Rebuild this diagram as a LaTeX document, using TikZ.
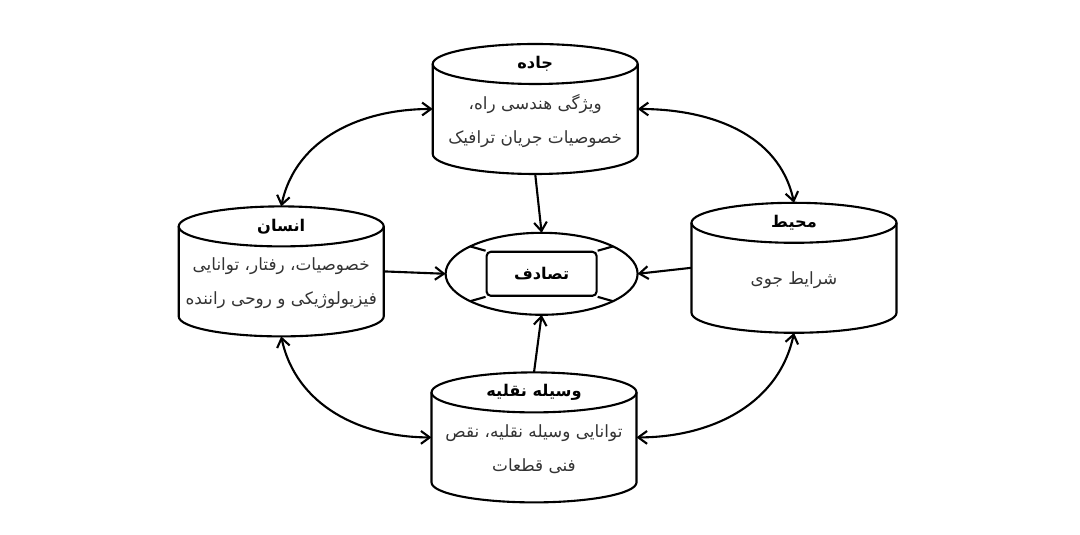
\documentclass[tikz,border=0pt]{standalone}
\usepackage{fontspec}
\usetikzlibrary{shapes.geometric,arrows.meta}
\newfontfamily\arabicfont[Script=Arabic]{DejaVu Sans}
\TeXXeTstate=1
\newcommand{\rtl}[1]{\beginR #1\endR}
% outline of an upright cylinder round a named box
\newcommand{\drawcyl}[1]{%
  \draw ([yshift=-0.5cm]#1.north) ellipse (2.5625cm and 0.5cm);
  \draw ([yshift=-0.5cm]#1.north west) -- ([yshift=0.5cm]#1.south west)
    arc (180:360:2.5625cm and 0.5cm) -- ([yshift=-0.5cm]#1.north east);
}

\begin{document}
\begin{tikzpicture}[
    line width=1.5pt,
    % box that holds one cylinder
    cyl/.style={rectangle, minimum width=5.125cm, minimum height=3.25cm, inner sep=0pt, outer sep=0pt},
    % texts
    title/.style={font=\arabicfont\bfseries\fontsize{11.5}{13}\selectfont, inner sep=1pt},
    body/.style={font=\arabicfont\fontsize{12}{24}\selectfont, text=black!80, align=center, inner sep=1pt},
    % arrows
    link/.style={{Straight Barb[length=2.2mm,width=3.2mm]}-{Straight Barb[length=2.2mm,width=3.2mm]}},
    feed/.style={-{Straight Barb[length=2.2mm,width=3.2mm]}}
]
    \useasboundingbox (0,0) rectangle (27,13.375);

    % --- Centre: accident ---
    \node[ellipse, draw, minimum width=4.8cm, minimum height=2.05cm, inner sep=0pt, outer sep=0pt] (acc) at (13.54,6.53) {};
    \node[draw, rounded corners=3pt, minimum width=2.75cm, minimum height=1.1cm, title] (accbox) at (acc.center) {\rtl{تصادف}};
    \draw (accbox.north west) -- (acc.159);
    \draw (accbox.north east) -- (acc.21);
    \draw (accbox.south west) -- (acc.201);
    \draw (accbox.south east) -- (acc.339);

    % --- Cylinders ---
    \node[cyl] (road) at (13.38,10.65) {};
    \node[cyl] (human) at (7.03,6.59) {};
    \node[cyl] (env) at (19.85,6.68) {};
    \node[cyl] (vehicle) at (13.35,2.44) {};
    \drawcyl{road}
    \drawcyl{human}
    \drawcyl{env}
    \drawcyl{vehicle}

    % Titles
    \node[title] (roadT) at ([yshift=-0.5cm]road.north) {\rtl{جاده}};
    \node[title] (humanT) at ([yshift=-0.5cm]human.north) {\rtl{انسان}};
    \node[title] (envT) at ([yshift=-0.5cm]env.north) {\rtl{محیط}};
    \node[title] (vehicleT) at ([yshift=-0.5cm]vehicle.north) {\rtl{وسیله نقلیه}};

    % Bodies
    \node[body] (roadB) at ([yshift=-0.3cm]road.center) {\rtl{ویژگی هندسی راه،}\\\rtl{خصوصیات جریان ترافیک}};
    \node[body] (humanB) at ([yshift=-0.3cm]human.center) {\rtl{خصوصیات، رفتار، توانایی}\\\rtl{فیزیولوژیکی و روحی راننده}};
    \node[body] (envB) at ([yshift=-0.3cm]env.center) {\rtl{شرایط جوی}};
    \node[body] (vehicleB) at ([yshift=-0.3cm]vehicle.center) {\rtl{توانایی وسیله نقلیه، نقص}\\\rtl{فنی قطعات}};

    % --- Arrows into the accident ---
    \draw[feed] (road.south) -- (acc.north);
    \draw[feed] (human.east) -- (acc.west);
    \draw[feed] (env.west) -- (acc.east);
    \draw[feed] (vehicle.north) -- (acc.south);

    % --- Links between neighbours ---
    \draw[link] (human.north) to[out=78, in=180] (road.west);
    \draw[link] (human.south) to[out=-78, in=180] (vehicle.west);
    \draw[link] (env.north) to[out=102, in=0] (road.east);
    \draw[link] (env.south) to[out=-102, in=0] (vehicle.east);

\end{tikzpicture}
\end{document}
